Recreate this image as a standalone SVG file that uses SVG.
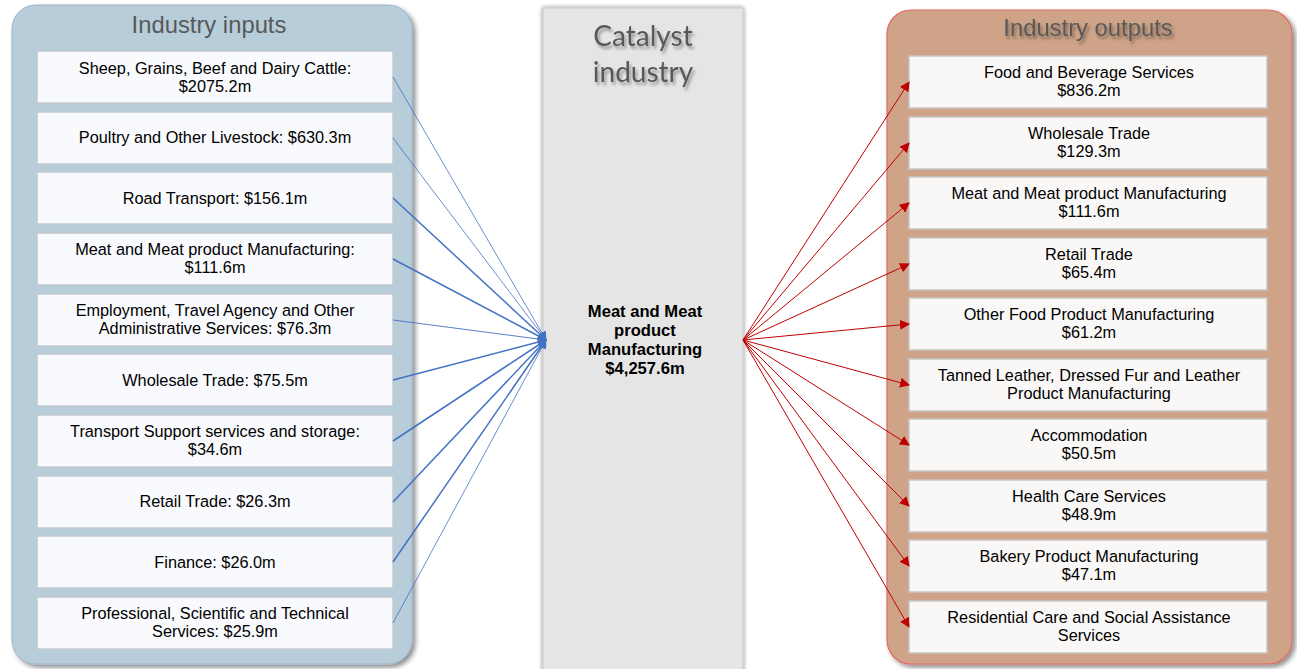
<svg xmlns="http://www.w3.org/2000/svg" width="1297" height="669" viewBox="0 0 1297 669">
<style>
.lbox{fill:#f9fafd;stroke:#c4c9cf;stroke-width:1.5}
.rbox{fill:#faf8f7;stroke:#c6c6c6;stroke-width:1.5}
.t{font-family:"Liberation Sans",Arial,sans-serif;font-size:16.3px;fill:#000;text-anchor:middle}
.tb{font-family:"Liberation Sans",Arial,sans-serif;font-size:16.6px;font-weight:bold;fill:#000;text-anchor:middle}
.title{font-family:"Liberation Sans",Arial,sans-serif;font-size:23.8px;fill:#595959;text-anchor:middle}
.ctitle{font-family:Lato,"Open Sans",sans-serif;font-size:28px;fill:#595959;text-anchor:middle}
.bl{stroke:#4472c4;fill:none}
.rd{stroke:#c00000;stroke-width:1;fill:none}
</style>
<defs>
<filter id="sh" x="-5%" y="-5%" width="115%" height="115%">
<feGaussianBlur in="SourceAlpha" stdDeviation="2.5"/>
<feOffset dx="3" dy="3" result="b"/>
<feComponentTransfer><feFuncA type="linear" slope="0.45"/></feComponentTransfer>
<feMerge><feMergeNode/><feMergeNode in="SourceGraphic"/></feMerge>
</filter>
<filter id="csh" x="-10%" y="-5%" width="120%" height="110%">
<feGaussianBlur in="SourceAlpha" stdDeviation="2"/>
<feOffset dx="0" dy="0"/>
<feComponentTransfer><feFuncA type="linear" slope="0.5"/></feComponentTransfer>
<feMerge><feMergeNode/><feMergeNode in="SourceGraphic"/></feMerge>
</filter>
<filter id="tsh" x="-10%" y="-20%" width="120%" height="150%">
<feGaussianBlur in="SourceAlpha" stdDeviation="1.5"/>
<feOffset dx="1.5" dy="2.5"/>
<feComponentTransfer><feFuncA type="linear" slope="0.35"/></feComponentTransfer>
<feMerge><feMergeNode/><feMergeNode in="SourceGraphic"/></feMerge>
</filter>
<marker id="ab" viewBox="0 0 10 10" refX="9" refY="5" markerWidth="9" markerHeight="9" markerUnits="userSpaceOnUse" orient="auto">
<path d="M0,0 L10,5 L0,10 z" fill="#4472c4"/>
</marker>
<marker id="ar" viewBox="0 0 10 10" refX="9" refY="5" markerWidth="10" markerHeight="10" markerUnits="userSpaceOnUse" orient="auto">
<path d="M0,0 L10,5 L0,10 z" fill="#c00000"/>
</marker>
</defs>
<rect width="1297" height="669" fill="#ffffff"/>

<g id="inputs-panel">
<rect x="12" y="5" width="400" height="659" rx="24" fill="#b7cdd9" stroke="#9cb3cc" stroke-width="1" filter="url(#sh)"/>
<text class="title" x="209" y="33">Industry inputs</text>
</g>

<g id="catalyst">
<rect x="543" y="8" width="200" height="665" fill="#e5e5e5" stroke="#c9c9c9" stroke-width="1" filter="url(#csh)"/>
<text class="ctitle" x="643" y="46" filter="url(#tsh)">Catalyst</text>
<text class="ctitle" x="643" y="82" filter="url(#tsh)">industry</text>
<text class="tb" x="645" y="317">Meat and Meat</text>
<text class="tb" x="645" y="336">product</text>
<text class="tb" x="645" y="355">Manufacturing</text>
<text class="tb" x="645" y="374">$4,257.6m</text>
</g>

<g id="outputs-panel">
<rect x="887" y="10" width="405" height="654" rx="24" fill="#cea387" stroke="#e06a66" stroke-width="1.2" filter="url(#sh)"/>
<text class="title" x="1088" y="36" filter="url(#tsh)">Industry outputs</text>
</g>

<g id="in1"><rect class="lbox" x="37" y="51" width="356" height="52"/><text class="t" x="215" y="74">Sheep, Grains, Beef and Dairy Cattle:</text><text class="t" x="215" y="92">$2075.2m</text></g>
<g id="in2"><rect class="lbox" x="37" y="112" width="356" height="52"/><text class="t" x="215" y="143">Poultry and Other Livestock: $630.3m</text></g>
<g id="in3"><rect class="lbox" x="37" y="172" width="356" height="52"/><text class="t" x="215" y="204">Road Transport: $156.1m</text></g>
<g id="in4"><rect class="lbox" x="37" y="233" width="356" height="52"/><text class="t" x="215" y="255">Meat and Meat product Manufacturing:</text><text class="t" x="215" y="273">$111.6m</text></g>
<g id="in5"><rect class="lbox" x="37" y="294" width="356" height="52"/><text class="t" x="215" y="316">Employment, Travel Agency and Other</text><text class="t" x="215" y="334">Administrative Services: $76.3m</text></g>
<g id="in6"><rect class="lbox" x="37" y="354" width="356" height="52"/><text class="t" x="215" y="386">Wholesale Trade: $75.5m</text></g>
<g id="in7"><rect class="lbox" x="37" y="415" width="356" height="52"/><text class="t" x="215" y="437">Transport Support services and storage:</text><text class="t" x="215" y="455">$34.6m</text></g>
<g id="in8"><rect class="lbox" x="37" y="476" width="356" height="52"/><text class="t" x="215" y="507">Retail Trade: $26.3m</text></g>
<g id="in9"><rect class="lbox" x="37" y="536" width="356" height="52"/><text class="t" x="215" y="568">Finance: $26.0m</text></g>
<g id="in10"><rect class="lbox" x="37" y="597" width="356" height="52"/><text class="t" x="215" y="619">Professional, Scientific and Technical</text><text class="t" x="215" y="637">Services: $25.9m</text></g>

<g id="out1"><rect class="rbox" x="909" y="56" width="358" height="52"/><text class="t" x="1089" y="78">Food and Beverage Services</text><text class="t" x="1089" y="96">$836.2m</text></g>
<g id="out2"><rect class="rbox" x="909" y="117" width="358" height="52"/><text class="t" x="1089" y="139">Wholesale Trade</text><text class="t" x="1089" y="157">$129.3m</text></g>
<g id="out3"><rect class="rbox" x="909" y="177" width="358" height="52"/><text class="t" x="1089" y="199">Meat and Meat product Manufacturing</text><text class="t" x="1089" y="217">$111.6m</text></g>
<g id="out4"><rect class="rbox" x="909" y="238" width="358" height="52"/><text class="t" x="1089" y="260">Retail Trade</text><text class="t" x="1089" y="278">$65.4m</text></g>
<g id="out5"><rect class="rbox" x="909" y="298" width="358" height="52"/><text class="t" x="1089" y="320">Other Food Product Manufacturing</text><text class="t" x="1089" y="338">$61.2m</text></g>
<g id="out6"><rect class="rbox" x="909" y="359" width="358" height="52"/><text class="t" x="1089" y="381">Tanned Leather, Dressed Fur and Leather</text><text class="t" x="1089" y="399">Product Manufacturing</text></g>
<g id="out7"><rect class="rbox" x="909" y="419" width="358" height="52"/><text class="t" x="1089" y="441">Accommodation</text><text class="t" x="1089" y="459">$50.5m</text></g>
<g id="out8"><rect class="rbox" x="909" y="480" width="358" height="52"/><text class="t" x="1089" y="502">Health Care Services</text><text class="t" x="1089" y="520">$48.9m</text></g>
<g id="out9"><rect class="rbox" x="909" y="540" width="358" height="52"/><text class="t" x="1089" y="562">Bakery Product Manufacturing</text><text class="t" x="1089" y="580">$47.1m</text></g>
<g id="out10"><rect class="rbox" x="909" y="601" width="358" height="52"/><text class="t" x="1089" y="623">Residential Care and Social Assistance</text><text class="t" x="1089" y="641">Services</text></g>

<g id="connectors">
<line class="bl" stroke-width="0.8" x1="393" y1="77" x2="546" y2="340" marker-end="url(#ab)"/>
<line class="bl" stroke-width="0.8" x1="393" y1="138" x2="546" y2="340" marker-end="url(#ab)"/>
<line class="bl" stroke-width="1.5" x1="393" y1="198" x2="546" y2="340" marker-end="url(#ab)"/>
<line class="bl" stroke-width="1.5" x1="393" y1="259" x2="546" y2="340" marker-end="url(#ab)"/>
<line class="bl" stroke-width="0.9" x1="393" y1="320" x2="546" y2="340" marker-end="url(#ab)"/>
<line class="bl" stroke-width="1.5" x1="393" y1="380" x2="546" y2="340" marker-end="url(#ab)"/>
<line class="bl" stroke-width="1.5" x1="393" y1="441" x2="546" y2="340" marker-end="url(#ab)"/>
<line class="bl" stroke-width="1.5" x1="393" y1="502" x2="546" y2="340" marker-end="url(#ab)"/>
<line class="bl" stroke-width="1.5" x1="393" y1="562" x2="546" y2="340" marker-end="url(#ab)"/>
<line class="bl" stroke-width="0.8" x1="393" y1="623" x2="546" y2="340" marker-end="url(#ab)"/>

<line class="rd" x1="743" y1="340" x2="909" y2="82" marker-end="url(#ar)"/>
<line class="rd" x1="743" y1="340" x2="909" y2="143" marker-end="url(#ar)"/>
<line class="rd" x1="743" y1="340" x2="909" y2="203" marker-end="url(#ar)"/>
<line class="rd" x1="743" y1="340" x2="909" y2="264" marker-end="url(#ar)"/>
<line class="rd" x1="743" y1="340" x2="909" y2="324" marker-end="url(#ar)"/>
<line class="rd" x1="743" y1="340" x2="909" y2="385" marker-end="url(#ar)"/>
<line class="rd" x1="743" y1="340" x2="909" y2="445" marker-end="url(#ar)"/>
<line class="rd" x1="743" y1="340" x2="909" y2="506" marker-end="url(#ar)"/>
<line class="rd" x1="743" y1="340" x2="909" y2="566" marker-end="url(#ar)"/>
<line class="rd" x1="743" y1="340" x2="909" y2="627" marker-end="url(#ar)"/>
</g>
</svg>
